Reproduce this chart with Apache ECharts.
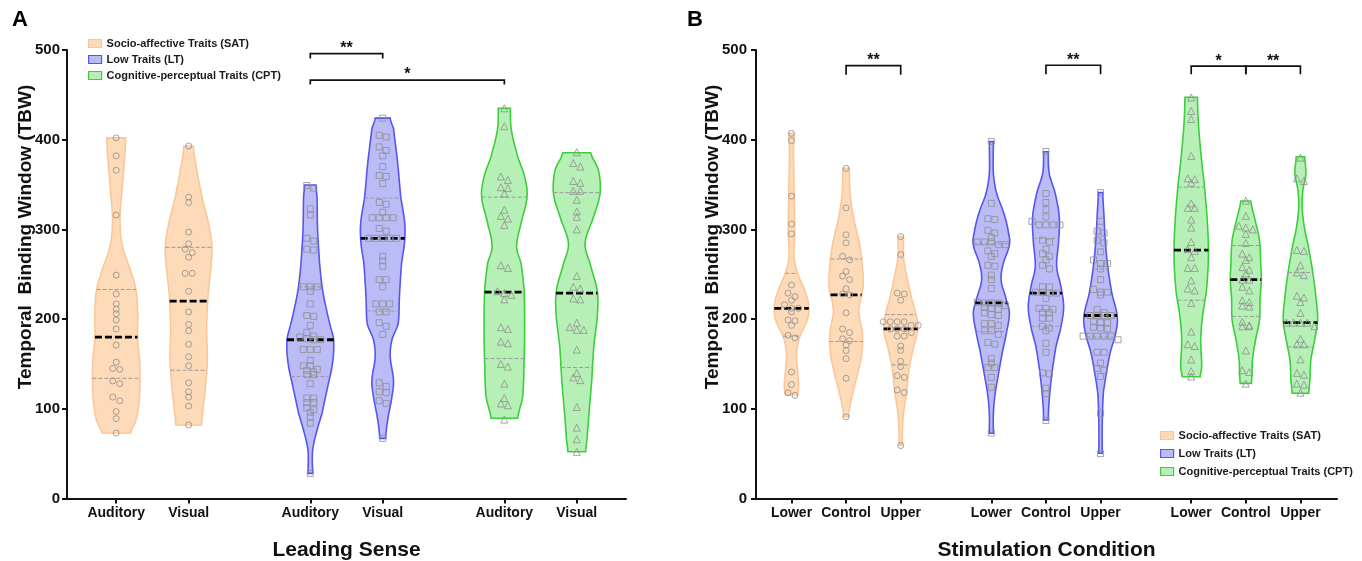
<!DOCTYPE html>
<html>
<head>
<meta charset="utf-8">
<script src="https://cdn.jsdelivr.net/npm/echarts@6.0.0/dist/echarts.min.js"></script>
<style>
  html, body { margin: 0; padding: 0; background: #fff; }
  #chart { width: 1362px; height: 561px; }
</style>
</head>
<body>
<div id="chart"></div>
<script>
  var FONT = '"Liberation Sans", Arial, sans-serif';

  var groups = ['Socio-affective Traits (SAT)', 'Low Traits (LT)', 'Cognitive-perceptual Traits (CPT)'];
  var fills = ['#fddab8', '#bbbbf8', '#b6f0b6'];
  var strokes = ['#fbc79a', '#5656ee', '#3ccf3c'];
  var markers = ['circle', 'rect', 'triangle'];

  // ---- panel A : leading sense ----
  var catsA = ['Auditory', 'Visual', 'Auditory', 'Visual', 'Auditory', 'Visual'];
  var xPosA = [1, 2, 3.68, 4.68, 6.36, 7.36];
  var groupOfA = [0, 0, 1, 1, 2, 2];
  var medianA = [180, 220, 177, 290, 230, 229];
  var q3A = [233, 280, 236, 335, 336, 341];
  var q1A = [134, 143, 136, 209, 156, 146];

  var satAudA = [402, 382, 366, 316, 249, 228, 217, 211, 206, 199, 189, 171, 152, 145, 144, 131, 128, 113, 109, 97, 89, 73];
  var satVisA = [393, 336, 330, 297, 284, 278, 274, 269, 251, 251, 231, 208, 194, 187, 172, 158, 148, 129, 119, 113, 103, 82];
  var ltAudA = [349, 346, 323, 316, 290, 287, 278, 277, 236, 236, 236, 231, 217, 204, 203, 193, 185, 181, 180, 178, 177, 177,
    166, 166, 166, 154, 148, 148, 144, 143, 141, 138, 138, 128, 112, 112, 107, 107, 101, 99, 96, 91, 84, 28];
  var ltVisA = [424, 405, 403, 392, 388, 382, 370, 360, 359, 351, 330, 328, 319, 313, 313, 313, 313, 301, 298, 290, 290, 290,
    290, 290, 270, 265, 259, 244, 244, 236, 217, 217, 217, 208, 208, 196, 192, 183, 129, 125, 119, 118, 109, 106, 67];
  var cptAudA = [435, 415, 359, 355, 347, 346, 340, 322, 315, 312, 305, 260, 257, 231, 229, 227, 222, 191, 189, 175, 173,
    150, 147, 128, 112, 106, 104, 88];
  var cptVisA = [386, 374, 370, 354, 352, 343, 343, 333, 320, 314, 300, 248, 236, 234, 223, 222, 196, 191, 188, 188, 166,
    140, 135, 132, 102, 79, 66, 52];
  var pointsA = [satAudA, satVisA, ltAudA, ltVisA, cptAudA, cptVisA];

  // violin outlines: [value, half width in category units]
  var shapeSatAudA = [[402, 0.131], [377, 0.113], [340, 0.076], [310, 0.052], [281, 0.087], [247, 0.224], [229, 0.279],
    [203, 0.297], [180, 0.294], [154, 0.322], [132, 0.329], [106, 0.314], [87, 0.272], [73, 0.198]];
  var shapeSatVisA = [[393, 0.065], [366, 0.115], [333, 0.193], [303, 0.283], [281, 0.322], [258, 0.308], [229, 0.269],
    [191, 0.249], [154, 0.258], [125, 0.232], [99, 0.198], [82, 0.177]];
  var shapeLtAudA = [[349.5, 0.079], [336, 0.093], [299, 0.101], [262, 0.128], [243, 0.152], [225, 0.186], [206, 0.235],
    [195, 0.269], [177, 0.322], [151, 0.307], [121, 0.231], [95, 0.162], [76, 0.093], [58, 0.041], [47, 0.028], [28, 0.032]];
  var shapeLtVisA = [[424, 0.104], [412.7, 0.149], [373.7, 0.207], [336.5, 0.249], [306.8, 0.304], [284.5, 0.3], [262.2, 0.26],
    [225, 0.231], [195, 0.214], [176.7, 0.127], [158, 0.104], [132, 0.149], [113.5, 0.127], [87.5, 0.069], [67, 0.041]];
  var shapeCptAudA = [[435, 0.083], [410.8, 0.097], [381, 0.184], [358.8, 0.28], [336.5, 0.314], [306.8, 0.231], [280.7, 0.169],
    [262.2, 0.231], [232.4, 0.272], [187.8, 0.28], [150.7, 0.272], [113.5, 0.253], [89.4, 0.184]];
  var shapeCptVisA = [[385.5, 0.193], [366, 0.3], [340, 0.322], [314, 0.231], [284.5, 0.115], [262, 0.184], [232.4, 0.28],
    [206.5, 0.286], [169, 0.235], [132, 0.207], [95, 0.169], [65.2, 0.142], [52.2, 0.122]];
  var shapesA = [shapeSatAudA, shapeSatVisA, shapeLtAudA, shapeLtVisA, shapeCptAudA, shapeCptVisA];

  // brackets: [from x, to x, bar value, tick end value, label]
  var sigA = [[3.68, 4.68, 496, 490.5, '**'], [3.68, 6.36, 466.5, 461.5, '*']];

  // ---- panel B : stimulation condition ----
  var catsB = ['Lower', 'Control', 'Upper', 'Lower', 'Control', 'Upper', 'Lower', 'Control', 'Upper'];
  var xPosB = [1, 2, 3, 4.66, 5.66, 6.66, 8.32, 9.32, 10.32];
  var groupOfB = [0, 0, 0, 1, 1, 1, 2, 2, 2];
  var medianB = [212, 227, 189, 218, 229, 204, 277, 244, 196];
  var q3B = [251, 267, 205, 284, 290, 256, 347, 282, 252];
  var q1B = [181, 175, 149, 186, 192, 180, 221, 203, 169];

  var satLowB = [407, 399, 337, 306, 295, 238, 229, 225, 221, 216, 212, 212, 208, 199, 198, 193, 182, 179, 141, 127, 118, 115];
  var satConB = [368, 324, 294, 285, 270, 266, 253, 248, 244, 234, 228, 227, 207, 189, 185, 178, 176, 171, 165, 156, 134, 91];
  var satUpB = [292, 272, 229, 228, 221, 197, 197, 197, 197, 193, 193, 189, 189, 189, 185, 181, 181, 170, 165, 153, 147, 137,
    135, 121, 118, 59];
  var ltLowB = [398, 329, 312, 311, 299, 296, 291, 286, 286, 286, 283, 283, 276, 273, 270, 260, 259, 249, 244, 234, 219, 218,
    218, 218, 215, 213, 212, 211, 207, 205, 204, 195, 195, 193, 187, 187, 183, 174, 172, 156, 151, 146, 146, 135, 124, 73];
  var ltConB = [387, 340, 330, 322, 314, 309, 305, 305, 305, 305, 288, 286, 278, 273, 270, 266, 260, 256, 236, 236, 230, 230,
    229, 229, 223, 212, 212, 211, 207, 207, 201, 201, 192, 190, 187, 173, 163, 140, 139, 123, 117, 87];
  var ltUpB = [341, 309, 298, 296, 288, 285, 275, 266, 262, 262, 256, 244, 233, 230, 230, 227, 211, 207, 204, 204, 204, 204,
    197, 196, 196, 191, 190, 189, 181, 181, 181, 181, 181, 177, 163, 163, 151, 145, 143, 136, 95, 50];
  var cptLowB = [447, 432, 423, 382, 357, 356, 352, 329, 324, 324, 311, 302, 286, 278, 276, 269, 257, 257, 243, 234, 232, 218,
    186, 172, 170, 155, 142, 136];
  var cptConB = [332, 315, 304, 302, 300, 295, 285, 273, 269, 266, 258, 255, 251, 244, 244, 236, 232, 221, 219, 215, 214, 197,
    193, 192, 192, 165, 143, 141, 128];
  var cptUpB = [380, 357, 354, 277, 276, 260, 252, 249, 226, 224, 219, 207, 196, 196, 196, 196, 192, 178, 172, 172, 155, 140,
    138, 128, 127, 118];
  var pointsB = [satLowB, satConB, satUpB, ltLowB, ltConB, ltUpB, cptLowB, cptConB, cptUpB];

  var shapeSatLowB = [[407, 0.051], [388.5, 0.037], [351.4, 0.046], [321.6, 0.055], [295.7, 0.06], [269.6, 0.046], [251, 0.114],
    [228.8, 0.26], [213.8, 0.315], [199, 0.289], [180.4, 0.152], [161.9, 0.092], [139.6, 0.114], [124.6, 0.132], [115.4, 0.114]];
  var shapeSatConB = [[368, 0.06], [340, 0.073], [314, 0.134], [284.5, 0.244], [258.4, 0.299], [236, 0.311], [210, 0.233],
    [184, 0.299], [161.9, 0.288], [139.6, 0.214], [117.3, 0.123], [98.7, 0.06], [91.2, 0.049]];
  var shapeSatUpB = [[291.9, 0.051], [269.6, 0.051], [247.3, 0.114], [221.3, 0.207], [202.7, 0.289], [187.8, 0.311], [169.2, 0.238],
    [147, 0.159], [117.3, 0.106], [95, 0.051], [72.7, 0.031], [59.3, 0.031]];
  var shapeLtLowB = [[397.8, 0.037], [362.5, 0.037], [340.2, 0.097], [318, 0.229], [295.7, 0.315], [282.6, 0.33], [262.2, 0.22],
    [243.6, 0.178], [221.3, 0.275], [206.5, 0.33], [184.2, 0.275], [161.9, 0.198], [139.6, 0.132], [117.3, 0.07], [95, 0.037], [72.7, 0.037]];
  var shapeLtConB = [[386.6, 0.042], [362.5, 0.06], [340.2, 0.17], [314, 0.244], [288, 0.233], [258.4, 0.196], [236, 0.275],
    [213.8, 0.324], [191.5, 0.275], [169.2, 0.183], [139.6, 0.11], [109.8, 0.06], [87.5, 0.042]];
  var shapeLtUpB = [[341, 0.04], [318, 0.06], [288, 0.086], [258.4, 0.132], [228.8, 0.207], [202.7, 0.306], [184.2, 0.275],
    [161.9, 0.174], [139.6, 0.106], [117.3, 0.051], [83.8, 0.031], [50.4, 0.031]];
  var shapeCptLowB = [[447.3, 0.114], [418.3, 0.132], [381, 0.183], [347.6, 0.244], [306.8, 0.297], [269.6, 0.315], [232.4, 0.28],
    [202.7, 0.207], [176.7, 0.174], [147, 0.192], [135.8, 0.165]];
  var shapeCptConB = [[331.7, 0.092], [310.5, 0.17], [288, 0.251], [258.4, 0.275], [243.6, 0.284], [221.3, 0.26], [199, 0.251],
    [176.7, 0.178], [154.4, 0.123], [139.6, 0.115], [128.4, 0.104]];
  var shapeCptUpB = [[381, 0.077], [362.5, 0.101], [343.9, 0.046], [325.3, 0.031], [303, 0.07], [280.7, 0.147], [251, 0.229],
    [221.3, 0.289], [199, 0.315], [176.7, 0.26], [154.4, 0.192], [132.1, 0.174], [117.3, 0.152]];
  var shapesB = [shapeSatLowB, shapeSatConB, shapeSatUpB, shapeLtLowB, shapeLtConB, shapeLtUpB, shapeCptLowB, shapeCptConB, shapeCptUpB];

  var sigB = [[2, 3, 482.5, 472.5, '**'], [5.66, 6.66, 483, 473, '**'], [8.32, 9.32, 482, 473, '*'], [9.32, 10.32, 482, 473, '**']];

  // catmull-rom through the read outline so the violins come out smooth
  function smoothProfile(p) {
    var pts = p.slice().sort(function (a, b) { return a[0] - b[0]; });
    var out = [];
    for (var k = 0; k < pts.length - 1; k++) {
      var p0 = pts[Math.max(k - 1, 0)], p1 = pts[k], p2 = pts[k + 1], p3 = pts[Math.min(k + 2, pts.length - 1)];
      for (var s = 0; s < 8; s++) {
        var t = s / 8, t2 = t * t, t3 = t2 * t;
        var w = 0.5 * (2 * p1[1] + (-p0[1] + p2[1]) * t + (2 * p0[1] - 5 * p1[1] + 4 * p2[1] - p3[1]) * t2 +
          (-p0[1] + 3 * p1[1] - 3 * p2[1] + p3[1]) * t3);
        out.push([p1[0] + (p2[0] - p1[0]) * t, Math.max(w, 0.012)]);
      }
    }
    out.push(pts[pts.length - 1]);
    return out;
  }

  function widthAt(prof, v) {
    for (var k = 0; k < prof.length - 1; k++) {
      if (v >= prof[k][0] && v <= prof[k + 1][0]) {
        var f = (v - prof[k][0]) / (prof[k + 1][0] - prof[k][0] || 1);
        return prof[k][1] + (prof[k + 1][1] - prof[k][1]) * f;
      }
    }
    return 0;
  }

  function violinSeries(panel, g, xPos, groupOf, shapes, med, q1, q3) {
    var data = [];
    xPos.forEach(function (x, i) {
      if (groupOf[i] === g) data.push([x, med[i], i]);
    });
    return {
      type: 'custom',
      name: groups[g],
      xAxisIndex: panel,
      yAxisIndex: panel,
      z: 2,
      silent: true,
      itemStyle: {color: fills[g]},
      data: data,
      renderItem: function (params, api) {
        var x = api.value(0), i = api.value(2);
        var prof = smoothProfile(shapes[i]);
        var right = [], left = [];
        prof.forEach(function (q) {
          right.push(api.coord([x + q[1], q[0]]));
          left.push(api.coord([x - q[1], q[0]]));
        });
        var children = [{
          type: 'polygon',
          shape: {points: right.concat(left.reverse())},
          style: {fill: fills[g], stroke: strokes[g], lineWidth: 1.6}
        }];
        [q1[i], q3[i]].forEach(function (v) {
          var w = widthAt(prof, v);
          var a = api.coord([x - w, v]), b = api.coord([x + w, v]);
          children.push({
            type: 'line',
            shape: {x1: a[0], y1: a[1], x2: b[0], y2: b[1]},
            style: {stroke: '#9a9a9a', lineWidth: 1, lineDash: [4, 2]}
          });
        });
        var wm = widthAt(prof, med[i]);
        var m1 = api.coord([x - wm, med[i]]), m2 = api.coord([x + wm, med[i]]);
        children.push({
          type: 'line',
          z2: 10,
          shape: {x1: m1[0], y1: m1[1], x2: m2[0], y2: m2[1]},
          style: {stroke: '#000', lineWidth: 2.8, lineDash: [7, 3]}
        });
        return {type: 'group', children: children};
      }
    };
  }

  // prism-like rows: values that sit close together are spread sideways
  function swarm(values, x) {
    var sorted = values.slice().sort(function (a, b) { return b - a; });
    var rows = [], cur = null;
    sorted.forEach(function (v) {
      if (cur && cur.top - v < 4.5) cur.vals.push(v);
      else {
        cur = {top: v, vals: [v]};
        rows.push(cur);
      }
    });
    var out = [];
    rows.forEach(function (r) {
      var n = r.vals.length;
      r.vals.forEach(function (v, k) {
        out.push({value: [x, v], symbolOffset: [(k - (n - 1) / 2) * 7, 0]});
      });
    });
    return out;
  }

  function pointSeries(panel, g, xPos, groupOf, pts) {
    var data = [];
    xPos.forEach(function (x, i) {
      if (groupOf[i] === g) data = data.concat(swarm(pts[i], x));
    });
    return {
      type: 'scatter',
      name: groups[g],
      xAxisIndex: panel,
      yAxisIndex: panel,
      z: 3,
      symbol: markers[g],
      symbolSize: g === 2 ? 7 : 6,
      itemStyle: {color: 'rgba(0,0,0,0)', borderColor: '#8e8e8e', borderWidth: 1},
      data: data
    };
  }

  function bracketSeries(panel, sig) {
    return {
      type: 'custom',
      xAxisIndex: panel,
      yAxisIndex: panel,
      z: 4,
      silent: true,
      data: sig.map(function (s, i) { return [s[0], s[2], i]; }),
      renderItem: function (params, api) {
        var s = sig[api.value(2)];
        var a = api.coord([s[0], s[2]]), b = api.coord([s[1], s[2]]);
        var a2 = api.coord([s[0], s[3]]), b2 = api.coord([s[1], s[3]]);
        return {
          type: 'group',
          children: [{
            type: 'polyline',
            shape: {points: [a2, a, b, b2]},
            style: {stroke: '#111', lineWidth: 1.7, fill: null}
          }, {
            type: 'text',
            x: (a[0] + b[0]) / 2,
            y: a[1] + 3,
            style: {text: s[4], font: 'bold 16px ' + FONT, textAlign: 'center', textVerticalAlign: 'bottom', fill: '#111'}
          }]
        };
      }
    };
  }

  function labelFor(pos, cats, v) {
    var best = 0;
    pos.forEach(function (p, i) {
      if (Math.abs(p - v) < Math.abs(pos[best] - v)) best = i;
    });
    return cats[best];
  }

  function xAxisOf(panel, pos, cats, min, max, name) {
    return {
      type: 'value',
      gridIndex: panel,
      min: min,
      max: max,
      name: name,
      nameLocation: 'middle',
      nameGap: 41,
      nameTextStyle: {fontFamily: FONT, fontWeight: 'bold', fontSize: 21, color: '#111'},
      axisLine: {show: true, onZero: false, lineStyle: {color: '#111', width: 2}},
      axisTick: {show: true, customValues: pos, length: 5, lineStyle: {color: '#111', width: 2}},
      axisLabel: {
        customValues: pos,
        margin: 8,
        fontFamily: FONT,
        fontWeight: 'bold',
        fontSize: 14,
        color: '#111',
        formatter: function (v) { return labelFor(pos, cats, v); }
      },
      splitLine: {show: false}
    };
  }

  function yAxisOf(panel, margin) {
    return {
      type: 'value',
      gridIndex: panel,
      min: 0,
      max: 500,
      interval: 100,
      axisLine: {show: true, lineStyle: {color: '#111', width: 2}},
      axisTick: {show: true, length: 5, lineStyle: {color: '#111', width: 2}},
      axisLabel: {margin: margin, fontFamily: FONT, fontWeight: 'bold', fontSize: 15, color: '#111'},
      splitLine: {show: false}
    };
  }

  var legendData = groups.map(function (g, i) {
    return {name: g, icon: 'rect', itemStyle: {color: fills[i], borderColor: strokes[i], borderWidth: 1.2}};
  });

  var series = [];
  [0, 1, 2].forEach(function (g) {
    series.push(violinSeries(0, g, xPosA, groupOfA, shapesA, medianA, q1A, q3A));
    series.push(pointSeries(0, g, xPosA, groupOfA, pointsA));
    series.push(violinSeries(1, g, xPosB, groupOfB, shapesB, medianB, q1B, q3B));
    series.push(pointSeries(1, g, xPosB, groupOfB, pointsB));
  });
  series.push(bracketSeries(0, sigA));
  series.push(bracketSeries(1, sigB));

  var yTitle = 'Temporal  Binding Window (TBW)';

  var chart = echarts.init(document.getElementById('chart'));
  chart.setOption({
    animation: false,
    backgroundColor: '#fff',
    title: [
      {text: 'A', left: 7, top: 4, textStyle: {fontFamily: FONT, fontWeight: 'bold', fontSize: 22, color: '#000'}},
      {text: 'B', left: 682, top: 4, textStyle: {fontFamily: FONT, fontWeight: 'bold', fontSize: 22, color: '#000'}}
    ],
    legend: [{
      orient: 'vertical',
      left: 83,
      top: 33,
      itemWidth: 13,
      itemHeight: 8,
      itemGap: 5,
      textStyle: {fontFamily: FONT, fontWeight: 'bold', fontSize: 11, color: '#1a1a1a'},
      selectedMode: false,
      data: legendData
    }, {
      orient: 'vertical',
      left: 1155,
      top: 425,
      itemWidth: 13,
      itemHeight: 8,
      itemGap: 7,
      textStyle: {fontFamily: FONT, fontWeight: 'bold', fontSize: 11, color: '#1a1a1a'},
      selectedMode: false,
      data: legendData
    }],
    graphic: [{
      type: 'text',
      x: 26,
      y: 237,
      rotation: Math.PI / 2,
      style: {text: yTitle, font: 'bold 19px ' + FONT, textAlign: 'center', textVerticalAlign: 'middle', fill: '#111'}
    }, {
      type: 'text',
      x: 713,
      y: 237,
      rotation: Math.PI / 2,
      style: {text: yTitle, font: 'bold 19px ' + FONT, textAlign: 'center', textVerticalAlign: 'middle', fill: '#111'}
    }],
    grid: [
      {left: 67, top: 50, width: 559, height: 448.5, outerBoundsMode: 'none'},
      {left: 756, top: 50, width: 581, height: 448.5, outerBoundsMode: 'none'}
    ],
    xAxis: [
      xAxisOf(0, xPosA, catsA, 0.32, 8.04, 'Leading Sense'),
      xAxisOf(1, xPosB, catsB, 0.35, 10.99, 'Stimulation Condition')
    ],
    yAxis: [yAxisOf(0, 7), yAxisOf(1, 9)],
    series: series
  });
</script>
</body>
</html>
